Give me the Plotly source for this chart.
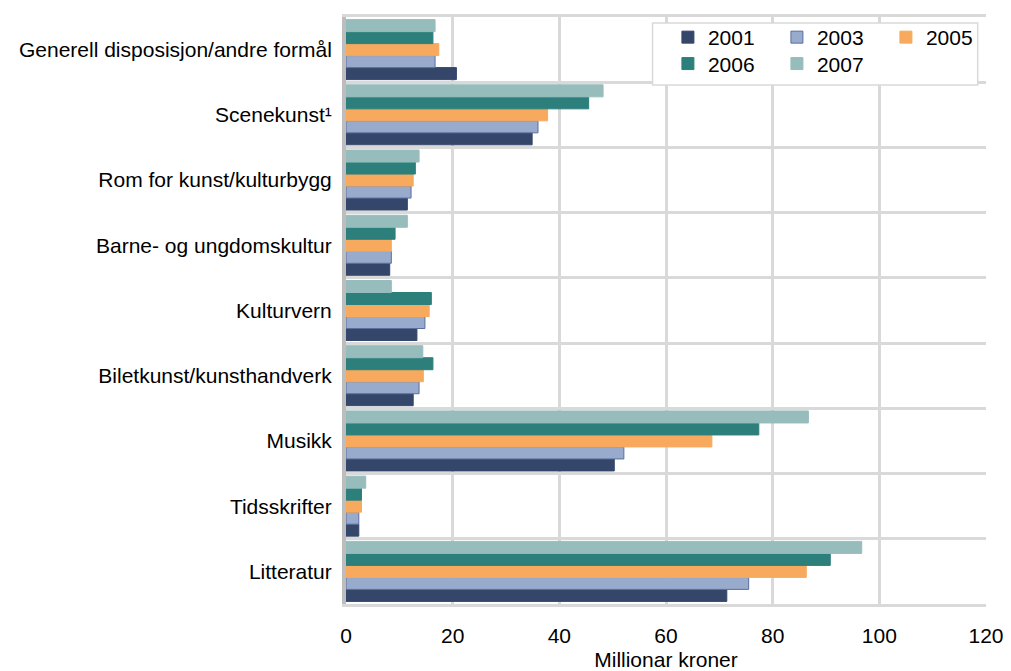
import plotly.graph_objects as go

categories = [
    "Generell disposisjon/andre formål",
    "Scenekunst¹",
    "Rom for kunst/kulturbygg",
    "Barne- og ungdomskultur",
    "Kulturvern",
    "Biletkunst/kunsthandverk",
    "Musikk",
    "Tidsskrifter",
    "Litteratur",
]

years = ["2001", "2003", "2005", "2006", "2007"]

v2001 = [20.7, 34.9, 11.5, 8.2, 13.3, 12.6, 50.3, 2.4, 71.4]
v2003 = [16.7, 36.0, 12.2, 8.5, 14.8, 13.7, 52.1, 2.4, 75.5]
v2005 = [17.4, 37.8, 12.6, 8.5, 15.6, 14.5, 68.6, 2.9, 86.3]
v2006 = [16.3, 45.5, 13.0, 9.2, 16.0, 16.3, 77.4, 2.9, 90.8]
v2007 = [16.7, 48.2, 13.7, 11.5, 8.5, 14.4, 86.7, 3.7, 96.7]

series = [v2001, v2003, v2005, v2006, v2007]
colors = ["#34476a", "#98abcd", "#f7aa5e", "#2d7f7c", "#97bcbc"]
edges = ["#34476a", "#5b6f9e", "#f7aa5e", "#2d7f7c", "#97bcbc"]
legend_ids = ["legend", "legend", "legend", "legend2", "legend2"]

FONT = "Liberation Sans, Arial, sans-serif"
FS = 21

fig = go.Figure()
for yr, vals, col, edge, lg in zip(years, series, colors, edges, legend_ids):
    fig.add_trace(go.Bar(
        y=categories, x=vals, name=yr, orientation="h",
        marker=dict(color=col, line=dict(color=edge, width=1)),
        legend=lg,
    ))

legend_common = dict(
    orientation="h",
    bgcolor="rgba(0,0,0,0)",
    borderwidth=0,
    font=dict(family=FONT, size=FS, color="#000000"),
    entrywidth=64,
    xanchor="left",
    yanchor="top",
    itemwidth=30,
)

# the page body adds an 8px offset, so the figure is 8px smaller and margins shifted
fig.update_layout(
    width=1003, height=663,
    margin=dict(l=338, r=25, t=9, b=67, autoexpand=False),
    paper_bgcolor="white",
    plot_bgcolor="white",
    barmode="group",
    bargap=0.08,
    bargroupgap=0,
    font=dict(family=FONT, size=FS, color="#000000"),
    legend=dict(x=0.503, y=1.0, **legend_common),
    legend2=dict(x=0.503, y=0.955, **legend_common),
    shapes=[dict(
        type="rect", xref="paper", yref="paper",
        x0=0.479, x1=0.987, y0=0.884, y1=0.9898,
        fillcolor="white", line=dict(color="#d9d9d9", width=1.5),
        layer="above",
    )],
    xaxis=dict(
        range=[0, 120], dtick=20, tick0=0,
        automargin=False,
        showgrid=True, gridcolor="#d9d9d9", gridwidth=3,
        zeroline=False,
        showline=True, mirror=True, linecolor="#d9d9d9", linewidth=3,
        ticks="", ticklabelstandoff=11,
        tickfont=dict(family=FONT, size=FS, color="#000000"),
        title=dict(text="Millionar kroner", font=dict(family=FONT, size=FS, color="#000000"), standoff=9),
    ),
    yaxis=dict(
        type="category",
        automargin=False,
        categoryorder="array", categoryarray=categories[::-1],
        tickson="boundaries",
        showgrid=True, gridcolor="#d9d9d9", gridwidth=3,
        showline=True, linecolor="#bdbdbd", linewidth=4, mirror=False,
        ticks="", ticklabelstandoff=6,
        tickfont=dict(family=FONT, size=FS, color="#000000"),
    ),
)

fig.write_html("out.html")
